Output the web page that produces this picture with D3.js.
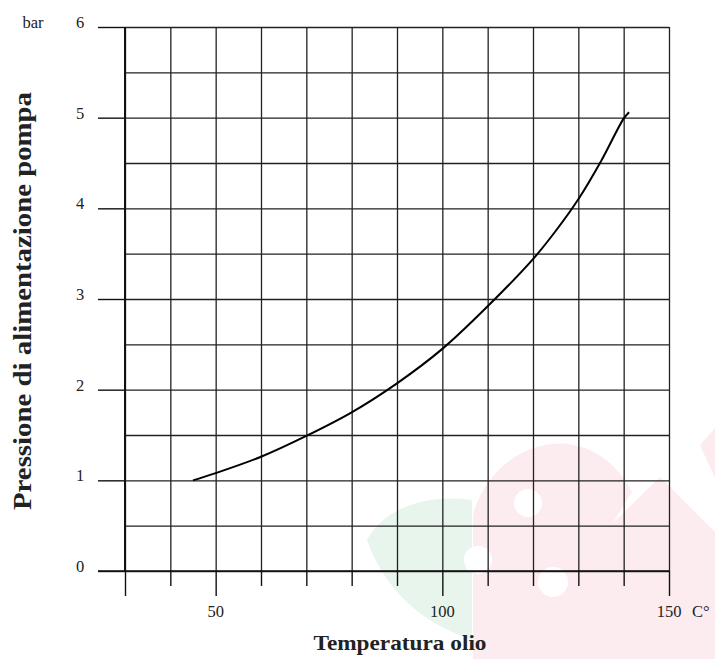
<!DOCTYPE html>
<html>
<head>
<meta charset="utf-8">
<script src="https://cdn.jsdelivr.net/npm/d3@7"></script>
<style>
  html, body { margin: 0; padding: 0; background: #fff; }
  svg { display: block; }
</style>
</head>
<body>
<svg id="chart" width="715" height="659"></svg>
<script>
// ---- data ----
const temperature = [45, 50, 60, 70, 80, 90, 100, 110, 120, 125, 130, 135, 140, 141.2];
const pressure    = [1.0, 1.08, 1.26, 1.49, 1.75, 2.07, 2.45, 2.92, 3.44, 3.75, 4.1, 4.52, 4.99, 5.06];
const xTickValues = [30, 40, 50, 60, 70, 80, 90, 100, 110, 120, 130, 140, 150];
const xLongTicks  = [30, 50, 100, 150];
const xLabels     = [50, 100, 150];
const yTickValues = [0, 1, 2, 3, 4, 5, 6];
const yGridValues = [0, 0.5, 1, 1.5, 2, 2.5, 3, 3.5, 4, 4.5, 5, 5.5, 6];
const xUnit = "C°";
const yUnit = "bar";
const xTitle = "Temperatura olio";
const yTitle = "Pressione di alimentazione pompa";

const svg = d3.select("#chart");
const FONT = "'Liberation Serif', 'DejaVu Serif', serif";

const x = d3.scaleLinear().domain([30, 150]).range([125, 669]);
const y = d3.scaleLinear().domain([0, 6]).range([571, 27]);

// ---- faint background watermark (decoration) ----
const wm = svg.append("g").attr("class", "watermark");
wm.append("path")
  .attr("d", "M367,540 C385,506 430,494 472,500 L472,640 C420,622 385,590 367,540 Z")
  .attr("fill", "#e8f5ec");
wm.append("path")
  .attr("d", "M473,659 L473,515 C485,468 528,440 568,444 C598,448 620,468 632,492 L612,524 L660,477 L715,532 L715,659 Z")
  .attr("fill", "#fcebef");
wm.append("path")
  .attr("d", "M700,445 L715,428 L715,478 Z")
  .attr("fill", "#fcebef");
[[528, 503, 14], [553, 582, 15], [478, 560, 14]].forEach(c => {
  wm.append("circle").attr("cx", c[0]).attr("cy", c[1]).attr("r", c[2]).attr("fill", "#fff");
});

// ---- grid ----
const W = x.range()[1] - x.range()[0];
const H = y.range()[0] - y.range()[1];

const gridX = svg.append("g")
  .attr("transform", `translate(0,${y(0)})`)
  .call(d3.axisBottom(x).tickValues(xTickValues).tickSize(-H).tickFormat(""));
gridX.select(".domain").remove();
gridX.selectAll("line").attr("stroke", "#222").attr("stroke-width", 1.3);

const gridY = svg.append("g")
  .attr("transform", `translate(${x(30)},0)`)
  .call(d3.axisLeft(y).tickValues(yGridValues).tickSize(-W).tickFormat(""));
gridY.select(".domain").remove();
gridY.selectAll("line").attr("stroke", "#222").attr("stroke-width", 1.3);

// ---- y ticks (extending left) ----
const yAx = svg.append("g")
  .attr("transform", `translate(${x(30)},0)`)
  .call(d3.axisLeft(y).tickValues(yTickValues).tickSize(27).tickFormat(""));
yAx.select(".domain").remove();
yAx.selectAll("line").attr("stroke", "#111").attr("stroke-width", 1.4);

// ---- x ticks (extending down) ----
const xAxShort = svg.append("g")
  .attr("transform", `translate(0,${y(0)})`)
  .call(d3.axisBottom(x).tickValues(xTickValues.filter(v => !xLongTicks.includes(v))).tickSize(15).tickFormat(""));
xAxShort.select(".domain").remove();
xAxShort.selectAll("line").attr("stroke", "#111").attr("stroke-width", 1.4);

const xAxLong = svg.append("g")
  .attr("transform", `translate(0,${y(0)})`)
  .call(d3.axisBottom(x).tickValues(xLongTicks).tickSize(25).tickFormat(""));
xAxLong.select(".domain").remove();
xAxLong.selectAll("line").attr("stroke", "#111").attr("stroke-width", 1.4);

// axis lines
svg.append("line")
  .attr("x1", x(30) - 27).attr("x2", x(150))
  .attr("y1", y(0)).attr("y2", y(0))
  .attr("stroke", "#111").attr("stroke-width", 1.5);
svg.append("line")
  .attr("x1", x(30)).attr("x2", x(30))
  .attr("y1", y(6)).attr("y2", y(0))
  .attr("stroke", "#111").attr("stroke-width", 2);

// ---- tick labels ----
svg.append("g").selectAll("text")
  .data(yTickValues).join("text")
  .attr("x", 80).attr("y", d => y(d) + 1)
  .attr("text-anchor", "middle")
  .attr("font-family", FONT).attr("font-size", 16.5).attr("fill", "#222")
  .text(d => d);

svg.append("text")
  .attr("x", 33).attr("y", y(6) + 1)
  .attr("text-anchor", "middle")
  .attr("font-family", FONT).attr("font-size", 16.5).attr("fill", "#222")
  .text(yUnit);

svg.append("g").selectAll("text")
  .data(xLabels).join("text")
  .attr("x", d => x(d)).attr("y", 617)
  .attr("text-anchor", "middle")
  .attr("font-family", FONT).attr("font-size", 16.5).attr("fill", "#222")
  .text(d => d);

svg.append("text")
  .attr("x", 692).attr("y", 617)
  .attr("text-anchor", "start")
  .attr("font-family", FONT).attr("font-size", 16.5).attr("fill", "#222")
  .text(xUnit);

// ---- titles ----
svg.append("text")
  .attr("x", 400).attr("y", 650)
  .attr("text-anchor", "middle")
  .attr("font-family", FONT).attr("font-weight", "bold").attr("font-size", 22)
  .attr("fill", "#222")
  .attr("textLength", 173).attr("lengthAdjust", "spacingAndGlyphs")
  .text(xTitle);

svg.append("text")
  .attr("transform", `translate(31,301) rotate(-90)`)
  .attr("text-anchor", "middle")
  .attr("font-family", FONT).attr("font-weight", "bold").attr("font-size", 25)
  .attr("fill", "#222")
  .attr("textLength", 418).attr("lengthAdjust", "spacingAndGlyphs")
  .text(yTitle);

// ---- curve ----
const pts = temperature.map((t, i) => [t, pressure[i]]);
svg.append("path")
  .datum(pts)
  .attr("fill", "none")
  .attr("stroke", "#000")
  .attr("stroke-width", 2)
  .attr("d", d3.line().x(d => x(d[0])).y(d => y(d[1])).curve(d3.curveCatmullRom.alpha(0.5)));
</script>
</body>
</html>
